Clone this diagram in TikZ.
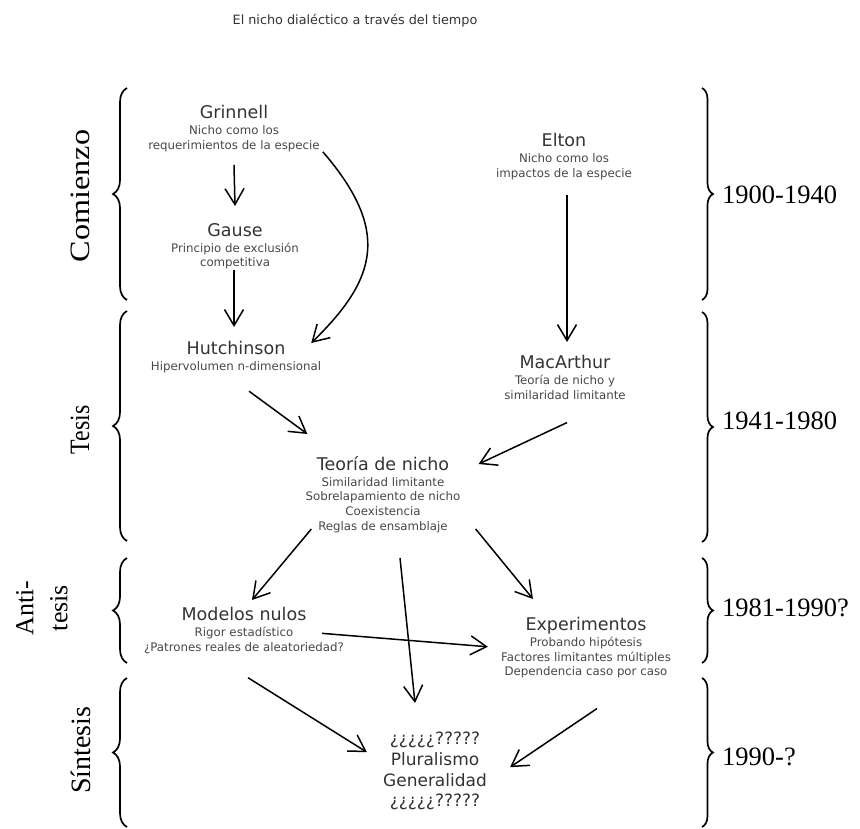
\documentclass[tikz,border=0pt]{standalone}
\usepackage{fontspec}
\usepackage{graphicx}
\usepackage{xcolor}
\usepackage{tikz}
\usetikzlibrary{positioning}
\usetikzlibrary{calc}
\usetikzlibrary{arrows.meta}
\usetikzlibrary{decorations.pathreplacing}

\setmainfont{DejaVu Sans}
\newfontfamily\eraserif{Liberation Serif}
\definecolor{nichotext}{HTML}{333333}
\definecolor{nichosub}{HTML}{474747}
\newcommand{\headfont}{\fontsize{17.5}{17.5}\selectfont\color{nichotext}}
\newcommand{\subfont}{\fontsize{11.8}{14.7}\selectfont}

\tikzset{
    idea/.style={align=center, inner sep=0pt, anchor=north, font=\subfont, text=nichosub},
    flow/.style={-{Straight Barb[length=16pt,width=19pt]}, line width=1.5pt},
    leftbrace/.style={decorate, decoration={brace, amplitude=14pt}, line width=1.7pt},
    rightbrace/.style={decorate, decoration={brace, amplitude=11pt}, line width=1.7pt},
    stage/.style={rotate=90, inner sep=0pt, font=\eraserif\fontsize{28}{34}\selectfont},
    years/.style={anchor=west, inner sep=0pt, font=\eraserif\fontsize{26.5}{30}\selectfont}
}

\begin{document}
\begin{tikzpicture}[x=1pt, y=-1pt]
    \useasboundingbox (0,0) rectangle (860,828);
    \node[text=nichotext, font=\fontsize{12.8}{15}\selectfont] (heading) at (355,21) {El nicho dialéctico a través del tiempo};

    \node[idea] (grinnell) at (234,105) {{\headfont Grinnell}\\[1.3pt]Nicho como los\\requerimientos de la especie};
    \node[idea] (gause) at (235,223) {{\headfont Gause}\\[1.3pt]Principio de exclusión\\competitiva};
    \node[idea] (elton) at (564,133) {{\headfont Elton}\\[1.3pt]Nicho como los\\impactos de la especie};
    \node[idea] (hutchinson) at (236,341) {{\headfont Hutchinson}\\[1.3pt]Hipervolumen n-dimensional};
    \node[idea] (macarthur) at (565,355) {{\headfont MacArthur}\\[1.3pt]Teoría de nicho y\\similaridad limitante};
    \node[idea] (teoria) at (383,456) {{\headfont Teoría de nicho}\\[1.3pt]Similaridad limitante\\Sobrelapamiento de nicho\\Coexistencia\\Reglas de ensamblaje};
    \node[idea] (modelos) at (244,607) {{\headfont Modelos nulos}\\[1.3pt]Rigor estadístico\\¿Patrones reales de aleatoriedad?};
    \node[idea] (experimentos) at (586,617) {{\headfont Experimentos}\\[1.3pt]Probando hipótesis\\Factores limitantes múltiples\\Dependencia caso por caso};
    \node[idea, text=nichotext, font=\fontsize{17}{20.7}\selectfont] (pluralismo) at (435,732) {¿¿¿¿¿?????\\Pluralismo\\Generalidad\\¿¿¿¿¿?????};

    \draw[flow] ($(grinnell.south)+(0,13)$) -- ($(gause.north)+(0,-17)$);
    \draw[flow] ($(gause.south)+(-1,0)$) -- ($(hutchinson.north)+(-2,-14)$);
    \draw[flow] ($(grinnell.south east)+(3,0)$) .. controls (390,230) and (378,278) .. ($(hutchinson.north east)+(-10,2)$);
    \draw[flow] ($(elton.south)+(3,15)$) -- ($(macarthur.north)+(2,-13)$);
    \draw[flow] ($(hutchinson.south)+(13,18)$) -- ($(teoria.north west)+(2,-22)$);
    \draw[flow] ($(macarthur.south)+(2,23)$) -- ($(teoria.north east)+(18,8)$);
    \draw[flow] ($(teoria.south west)+(6,-4)$) -- ($(modelos.north)+(8,-7)$);
    \draw[flow] ($(teoria.south)+(17,25)$) -- ($(pluralismo.north)+(-20,-29)$);
    \draw[flow] ($(teoria.south east)+(15,-4)$) -- ($(experimentos.north)+(-53,-18)$);
    \draw[flow] ($(modelos.east)+(-22,3)$) -- ($(experimentos.west)+(-13,-1)$);
    \draw[flow] ($(modelos.south)+(4,24)$) -- ($(pluralismo.west)+(-16,-19)$);
    \draw[flow] ($(experimentos.south)+(11,30)$) -- ($(pluralismo.east)+(23,-4)$);

    \draw[leftbrace] (127,300) -- (127,88);
    \draw[leftbrace] (127,541) -- (127,311);
    \draw[leftbrace] (127,663) -- (127,558);
    \draw[leftbrace] (127,827) -- (127,678);
    \draw[rightbrace] (702,88) -- (702,300);
    \draw[rightbrace] (702,312) -- (702,542);
    \draw[rightbrace] (702,558) -- (702,663);
    \draw[rightbrace] (702,678) -- (702,827);

    \node[stage] (comienzo) at (80,196) {\scalebox{1.15}[1]{Comienzo}};
    \node[stage] (tesis) at (80,430) {\scalebox{0.85}[1]{Tesis}};
    \node[stage, align=center, font=\eraserif\fontsize{26}{34}\selectfont] (antitesis) at (42,608) {Anti-\\tesis};
    \node[stage] (sintesis) at (81,750) {Síntesis};
    \node[years] (comienzoyears) at (722,195) {1900-1940};
    \node[years] (tesisyears) at (722,421) {1941-1980};
    \node[years] (antitesisyears) at (722,608) {1981-1990?};
    \node[years] (sintesisyears) at (722,757) {1990-?};
\end{tikzpicture}
\end{document}
